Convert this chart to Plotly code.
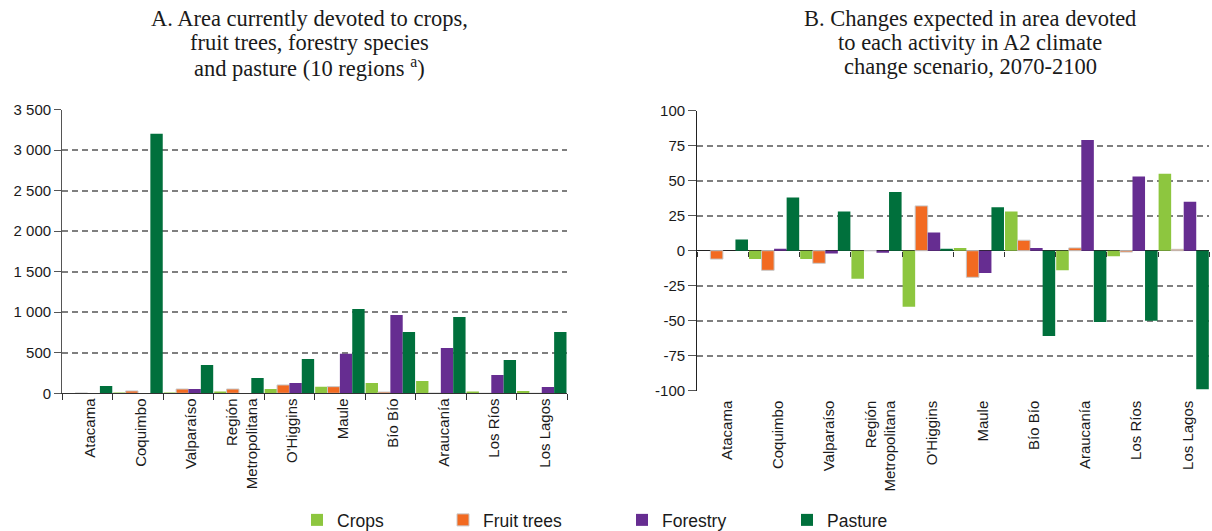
import plotly.graph_objects as go

# ---------------- data ----------------
regions = ["Atacama", "Coquimbo", "Valparaíso", "Región<br>Metropolitana", "O'Higgins",
           "Maule", "Bío Bío", "Araucanía", "Los Ríos", "Los Lagos"]
series_names = ["Crops", "Fruit trees", "Forestry", "Pasture"]

# Panel A: area currently devoted (thousand ha)
area_crops = [0, 8, 8, 16, 53, 82, 127, 152, 16, 29]
area_fruit = [3, 29, 53, 53, 103, 82, 16, 3, 0, 0]
area_forestry = [0, 0, 53, 0, 127, 489, 965, 559, 226, 78]
area_pasture = [90, 3200, 349, 189, 423, 1039, 756, 941, 411, 756]

# Panel B: expected change (%), A2 scenario 2070-2100
chg_crops = [0, -6, -6, -20, -40, 2, 28, -14, -4, 55]
chg_fruit = [-6, -14, -9, 0, 32, -19, 7.5, 2, -1, 1]
chg_forestry = [0, 1, -2, -1, 13, -16, 2, 79, 53, 35]
chg_pasture = [8, 38, 28, 42, 1, 31, -61, -51, -50, -99]

a_tickvals = [0, 500, 1000, 1500, 2000, 2500, 3000, 3500]
a_ticktext = ["0", "500", "1 000", "1 500", "2 000", "2 500", "3 000", "3 500"]
b_tickvals = [-100, -75, -50, -25, 0, 25, 50, 75, 100]
b_ticktext = ["-100", "-75", "-50", "-25", "0", "25", "50", "75", "100"]

title_a = ["A. Area currently devoted to crops,", "fruit trees, forestry species",
           "and pasture (10 regions <sup>a</sup>)"]
title_b = ["B. Changes expected in area devoted", "to each activity in A2 climate",
           "change scenario, 2070-2100"]

colors = ["#8DC63F", "#F26A21", "#662D91", "#00703C"]
line_colors = [None, "#C8C8C8", None, None]

# ---------------- layout helpers (pixel -> paper) ----------------
W, H = 1212, 531
px = lambda x: x / W
py = lambda y: 1 - y / H

fig = go.Figure()

area_series = [area_crops, area_fruit, area_forestry, area_pasture]
chg_series = [chg_crops, chg_fruit, chg_forestry, chg_pasture]
legend_ids = ["legend", "legend2", "legend3", "legend4"]


def marker_for(i):
    mk = dict(color=colors[i])
    if line_colors[i]:
        mk["line"] = dict(color=line_colors[i], width=1)
    else:
        mk["line"] = dict(width=0)
    return mk


for i, name in enumerate(series_names):
    fig.add_trace(go.Bar(x=regions, y=area_series[i], name=name, marker=marker_for(i),
                         xaxis="x", yaxis="y", legend=legend_ids[i], showlegend=True))
for i, name in enumerate(series_names):
    fig.add_trace(go.Bar(x=regions, y=chg_series[i], name=name, marker=marker_for(i),
                         xaxis="x2", yaxis="y2", showlegend=False))

# invisible helper trace so the zero-line tick axis of panel B is drawn
fig.add_trace(go.Scatter(x=regions, y=chg_pasture, mode="markers", marker=dict(opacity=0),
                         xaxis="x3", yaxis="y2", hoverinfo="skip", showlegend=False))

font_sans = "Liberation Sans, Arial, sans-serif"
font_serif = "Liberation Serif, Times New Roman, serif"
txt = "#1a1a1a"
grid = dict(showgrid=True, gridcolor="#7f7f7f", gridwidth=1.5, griddash="6px,4px")

ya_dom = [py(393.3), py(109.5)]
yb_dom = [py(390.7), py(110.7)]

fig.update_layout(
    width=W, height=H,
    margin=dict(l=0, r=0, t=0, b=0, autoexpand=False),
    paper_bgcolor="white", plot_bgcolor="white",
    font=dict(family=font_sans, size=15, color=txt),
    barmode="group", bargap=0.02, bargroupgap=0,
    xaxis=dict(domain=[px(62.3), px(567)], anchor="y", type="category",
               categoryorder="array", categoryarray=regions,
               showline=True, linecolor="#333333", linewidth=1.3,
               ticks="outside", tickson="boundaries", ticklen=6, tickcolor="#333333",
               tickangle=-90, tickfont=dict(size=15, color=txt), automargin=False,
               ticklabelshift=3, ticklabelstandoff=-2,
               showgrid=False),
    yaxis=dict(domain=ya_dom, anchor="x", range=[0, 3500],
               tickvals=a_tickvals, ticktext=a_ticktext,
               showline=True, linecolor="#555555", linewidth=1.3,
               ticks="outside", ticklen=7, tickcolor="#555555",
               tickfont=dict(size=15, color=txt), zeroline=False, automargin=False, **grid),
    xaxis2=dict(domain=[px(697.3), px(1209.3)], anchor="y2", type="category",
                categoryorder="array", categoryarray=regions,
                showline=False, ticks="outside", ticklen=6, tickcolor="rgba(0,0,0,0)",
                tickangle=-90, tickfont=dict(size=15, color=txt), automargin=False,
                ticklabelshift=4, ticklabelstandoff=-3,
                showgrid=False),
    xaxis3=dict(overlaying="x2", anchor="free", position=(yb_dom[0] + yb_dom[1]) / 2,
                type="category", categoryorder="array", categoryarray=regions,
                range=[-0.5, 9.5], showline=False, showgrid=False, zeroline=False,
                ticks="outside", tickson="boundaries", ticklen=5, tickcolor="#333333",
                showticklabels=False, side="bottom"),
    yaxis2=dict(domain=yb_dom, anchor="x2", range=[-100, 100],
                tickvals=b_tickvals, ticktext=b_ticktext,
                showline=True, linecolor="#222222", linewidth=1.3,
                ticks="outside", ticklen=8, tickcolor="#555555",
                tickfont=dict(size=15, color=txt),
                zeroline=True, zerolinecolor="#222222", zerolinewidth=1.3,
                automargin=False, **grid),
)

# titles (one annotation per line to match the tight line spacing)
title_y = [18, 43, 67]
for lines, cx in ((title_a, 309), (title_b, 970)):
    for j, t in enumerate(lines):
        fig.add_annotation(text=t, x=px(cx), y=py(title_y[j]), xref="paper", yref="paper",
                           xanchor="center", yanchor="middle", showarrow=False,
                           font=dict(family=font_serif, size=22.5, color=txt))

# legends: one per series, positioned like the reference
legend_left = [297, 443, 622, 787]
leg_common = dict(orientation="h", yanchor="middle", y=py(520), xanchor="left",
                  font=dict(family=font_sans, size=17.5, color=txt),
                  bgcolor="rgba(0,0,0,0)", borderwidth=0)
fig.update_layout(
    legend=dict(x=px(legend_left[0]), **leg_common),
    legend2=dict(x=px(legend_left[1]), **leg_common),
    legend3=dict(x=px(legend_left[2]), **leg_common),
    legend4=dict(x=px(legend_left[3]), **leg_common),
)

fig.write_html("out.html", config={"displayModeBar": False},
               post_script="document.body.style.margin='0';")
